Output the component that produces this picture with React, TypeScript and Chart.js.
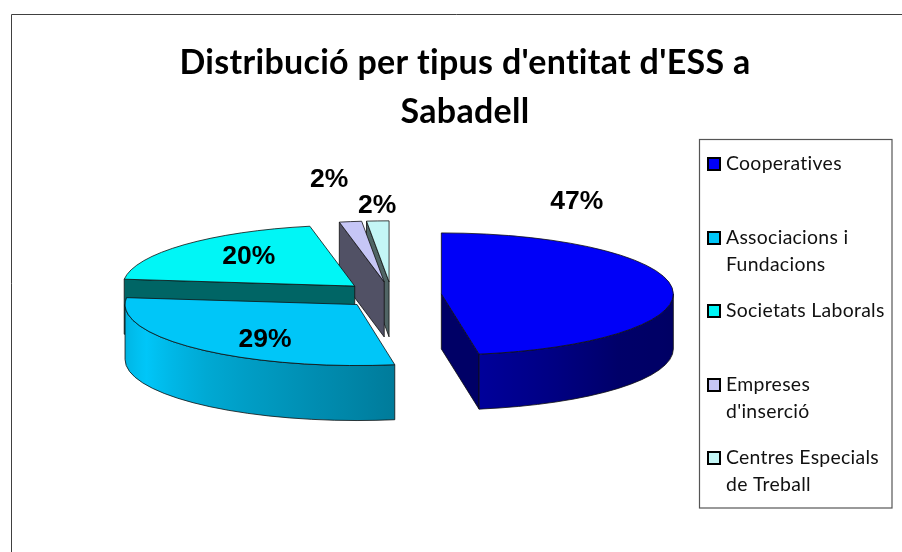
import React, { useEffect, useRef } from "react";
import { Chart, registerables } from "chart.js";

Chart.register(...registerables);

const categories = ["Cooperatives", "Associacions i Fundacions", "Societats Laborals", "Empreses d'inserció", "Centres Especials de Treball"];
const shareValues = [47.4, 29.4, 20.1, 1.55, 1.55];
const sliceColors = ["#0000F8", "#00C6F8", "#00F6F6", "#C6C6F6", "#C4F6F6"];
const titleLines = ["Distribució per tipus d'entitat d'ESS a", "Sabadell"];
const legendLines = [["Cooperatives"], ["Associacions i", "Fundacions"], ["Societats Laborals"], ["Empreses", "d'inserció"], ["Centres Especials", "de Treball"]];

const W = 902, H = 552;
const CX = 391.5, CY = 295, R = 232, K = 0.263, DEPTH = 55, EXPLODE = 50;
const labelOffsets = [[135.5, -92], [-92, 35], [-106, -29], [-55, -102], [-12, -76]];
const legendFirstLineY = [163, 237, 310, 384, 457];

const rgb = (hex: string) => [1, 3, 5].map((i) => parseInt(hex.slice(i, i + 2), 16));
const shade = (hex: string, f: number) => {
  const [r, g, b] = rgb(hex);
  return `rgb(${Math.round(r * f)},${Math.round(g * f)},${Math.round(b * f)})`;
};
// brightness of the extruded rim as a function of the ellipse angle
const rimLight = (t: number) => {
  const d = (t * 180) / Math.PI;
  const pts = [[0, 0.4], [40, 0.42], [80, 0.62], [130, 0.85], [155, 1], [180, 0.88]];
  for (let i = 1; i < pts.length; i++) {
    if (d <= pts[i][0]) {
      const u = (d - pts[i - 1][0]) / (pts[i][0] - pts[i - 1][0]);
      return pts[i - 1][1] + u * (pts[i][1] - pts[i - 1][1]);
    }
  }
  return 0.88;
};

const apexOf = (arc: any) => {
  const mid = (arc.startAngle + arc.endAngle) / 2;
  return { x: CX + Math.cos(mid) * EXPLODE, y: CY + Math.sin(mid) * EXPLODE * K };
};

const pie3d = {
  id: "pie3d",
  beforeDraw(chart: any) {
    const { ctx } = chart;
    // the spacing also switches off Lato's "ti" ligature, absent from the reference
    ctx.letterSpacing = "0.3px";
    ctx.save();
    ctx.strokeStyle = "#404040";
    ctx.lineWidth = 1;
    ctx.beginPath();
    ctx.moveTo(11.5, H);
    ctx.lineTo(11.5, 14.5);
    ctx.lineTo(W, 14.5);
    ctx.stroke();
    ctx.restore();
  },
  beforeDatasetDraw(chart: any) {
    const { ctx, chartArea } = chart;
    const arcs = chart.getDatasetMeta(0).data;
    const ry = R * K;
    ctx.save();
    ctx.lineWidth = 0.8;
    ctx.strokeStyle = "#101010";
    ctx.lineJoin = "round";
    for (let i = arcs.length - 1; i >= 0; i--) {
      const arc = arcs[i];
      const color = sliceColors[i];
      const s = arc.startAngle, e = arc.endAngle;
      const { x, y } = apexOf(arc);
      const wall = (t: number) => {
        const px = x + Math.cos(t) * R, py = y + Math.sin(t) * ry;
        ctx.beginPath();
        ctx.moveTo(x, y);
        ctx.lineTo(px, py);
        ctx.lineTo(px, py + DEPTH);
        ctx.lineTo(x, y + DEPTH);
        ctx.closePath();
        ctx.fillStyle = shade(color, 0.41);
        ctx.fill();
        ctx.stroke();
      };
      if (Math.cos(s) < -1e-6) wall(s);
      if (Math.cos(e) > 1e-6) wall(e);
      const a = Math.max(s, 0), b = Math.min(e, Math.PI);
      if (b > a) {
        const x0 = x + Math.cos(b) * R, x1 = x + Math.cos(a) * R;
        const g = ctx.createLinearGradient(x0, 0, x1, 0);
        for (let n = 0; n <= 16; n++) {
          const t = a + ((b - a) * n) / 16;
          const stop = (x + Math.cos(t) * R - x0) / (x1 - x0);
          g.addColorStop(Math.min(1, Math.max(0, stop)), shade(color, rimLight(t)));
        }
        ctx.beginPath();
        ctx.ellipse(x, y, R, ry, 0, a, b);
        ctx.ellipse(x, y + DEPTH, R, ry, 0, b, a, true);
        ctx.closePath();
        ctx.fillStyle = g;
        ctx.fill();
        ctx.stroke();
      }
      // top face: the library's own arc, squashed and moved out
      ctx.save();
      ctx.translate(x, y);
      ctx.scale(1, K);
      ctx.translate(-arc.x, -arc.y);
      arc.draw(ctx, chartArea);
      ctx.restore();
      ctx.beginPath();
      ctx.moveTo(x, y);
      ctx.ellipse(x, y, R, ry, 0, s, e);
      ctx.closePath();
      ctx.stroke();
    }
    ctx.restore();
    return false;
  },
  afterDraw(chart: any) {
    const { ctx } = chart;
    const arcs = chart.getDatasetMeta(0).data;
    const total = shareValues.reduce((p, c) => p + c, 0);
    ctx.save();
    ctx.fillStyle = "#000";
    ctx.textAlign = "center";
    ctx.textBaseline = "middle";
    ctx.letterSpacing = "0px";
    ctx.font = "bold 26.5px 'Liberation Sans'";
    arcs.forEach((arc: any, i: number) => {
      const { x, y } = apexOf(arc);
      ctx.fillText(`${Math.round((shareValues[i] / total) * 100)}%`, x + labelOffsets[i][0], y + labelOffsets[i][1]);
    });
    // legend
    ctx.strokeStyle = "#555";
    ctx.lineWidth = 1.2;
    ctx.strokeRect(699.5, 139.5, 192.5, 368.5);
    ctx.textAlign = "left";
    ctx.letterSpacing = "0.3px";
    ctx.font = "19.4px Lato";
    legendLines.forEach((lines, i) => {
      const y0 = legendFirstLineY[i];
      ctx.fillStyle = sliceColors[i];
      ctx.fillRect(708, y0 - 5, 12, 12);
      ctx.strokeStyle = "#000";
      ctx.lineWidth = 2;
      ctx.strokeRect(708, y0 - 5, 12, 12);
      ctx.fillStyle = "#111";
      lines.forEach((ln, j) => ctx.fillText(ln, 726, y0 + 1 + j * 27));
    });
    ctx.restore();
  },
};

export default function App() {
  const ref = useRef<HTMLCanvasElement>(null);
  useEffect(() => {
    const chart = new Chart(ref.current!, {
      type: "pie",
      data: {
        labels: categories,
        datasets: [{ data: shareValues, backgroundColor: sliceColors, borderWidth: 0 }],
      },
      options: {
        responsive: false,
        animation: false,
        radius: R,
        layout: { padding: { left: 28, right: 0, top: 0, bottom: 0 } },
        plugins: {
          legend: { display: false },
          tooltip: { enabled: false },
          title: {
            display: true,
            fullSize: false,
            text: titleLines,
            color: "#000",
            font: { family: "Lato", size: 34, weight: "bold", lineHeight: 1.45 },
            padding: { top: 38, bottom: 10 },
          },
        },
      } as any,
      plugins: [pie3d],
    });
    return () => chart.destroy();
  }, []);
  return <canvas ref={ref} width={W} height={H} style={{ position: "fixed", left: 0, top: 0, display: "block" }} />;
}
